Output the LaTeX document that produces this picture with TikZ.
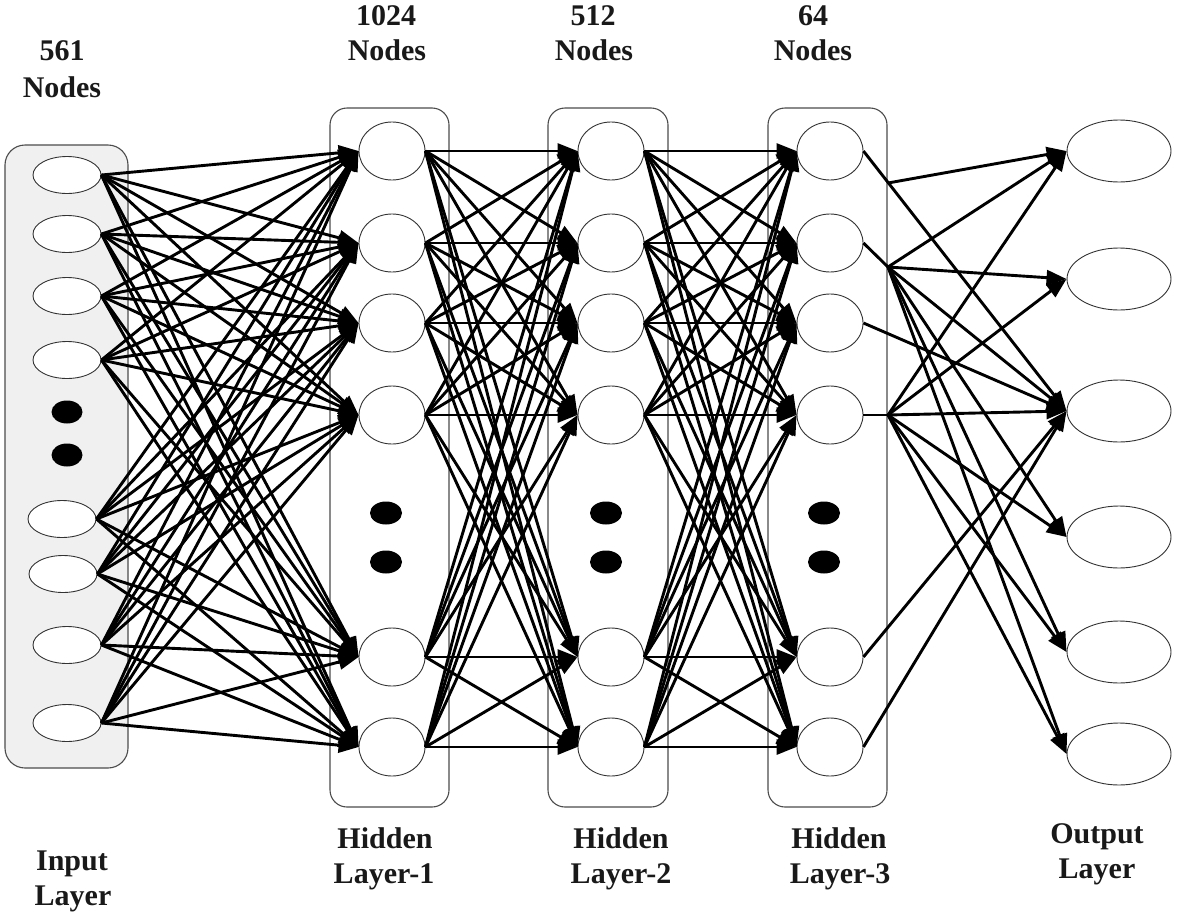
\documentclass[tikz,border=0pt]{standalone}
\usepackage{fontspec}
\setmainfont{Liberation Serif}
\usetikzlibrary{arrows.meta,shapes.geometric}
\begin{document}
\begin{tikzpicture}[x=1pt,y=-1pt,
  neuron/.style={ellipse, draw=black!80, line width=0.9pt, fill=white, inner sep=0pt},
  hnode/.style={neuron, minimum width=66pt, minimum height=58pt},
  inode/.style={neuron, minimum width=68pt, minimum height=37pt},
  onode/.style={neuron, minimum width=104pt, minimum height=62pt},
  dotnode/.style={ellipse, fill=black, draw=none, minimum width=31pt, minimum height=23pt, inner sep=0pt},
  layerbox/.style={draw=black!70, line width=1.1pt, rounded corners=17pt, inner sep=0pt},
  conn/.style={line width=2.9pt, -{Triangle[length=20pt,width=15pt]}},
  seg/.style={line width=2.9pt},
  lbl/.style={anchor=base, font=\fontsize{30}{35}\selectfont\bfseries, text=black!90, inner sep=0pt}
]
\fill[white] (0,0) rectangle (1181,913);
\useasboundingbox (0,0) rectangle (1181,913);

% layer boxes
\node[layerbox, fill=black!6, rounded corners=20pt, minimum width=123pt, minimum height=623pt] (boxin) at (66.5,456.5) {};
\node[layerbox, minimum width=119pt, minimum height=699pt] (box1) at (389.5,457.5) {};
\node[layerbox, minimum width=120pt, minimum height=699pt] (box2) at (608,457.5) {};
\node[layerbox, minimum width=119pt, minimum height=699pt] (box3) at (827.5,457.5) {};

% input nodes
\node[inode] (i1) at (67,175) {};
\node[inode] (i2) at (67,234) {};
\node[inode] (i3) at (67,296) {};
\node[inode] (i4) at (67,360) {};
\node[dotnode] (id1) at (67,412) {};
\node[dotnode] (id2) at (67,455) {};
\node[inode] (i5) at (62,519) {};
\node[inode] (i6) at (63,574) {};
\node[inode] (i7) at (67,645) {};
\node[inode] (i8) at (67,723) {};

% hidden nodes
\foreach \n/\x/\dx in {a/392/386, b/611/606, c/830/824}{
  \foreach \k/\y in {1/151, 2/243, 3/323, 4/415, 5/657, 6/747}{
    \node[hnode] (\n\k) at (\x,\y) {};
  }
  \node[dotnode, minimum width=32pt] (\n d1) at (\dx,513) {};
  \node[dotnode, minimum width=32pt] (\n d2) at (\dx,562) {};
}

% output nodes
\foreach \k/\y in {1/151, 2/279, 3/411, 4/537, 5/652, 6/754}{
  \node[onode] (o\k) at (1119,\y) {};
}

% connections
\foreach \i in {1,...,8}{
  \foreach \j in {1,...,6}{
    \draw[conn] (i\i.east) -- (a\j.west);
  }
}
\foreach \i in {1,...,6}{
  \foreach \j in {1,...,6}{
    \draw[conn] (a\i.east) -- (b\j.west);
    \draw[conn] (b\i.east) -- (c\j.west);
  }
}

\coordinate (p1) at (888,183);
\coordinate (p2) at (888,267);
\coordinate (p4) at (888,415);
\draw[conn] (c1.east) -- (o3.west);
\draw[conn] (p1) -- (o1.west);
\draw[seg] (c2.east) -- (p2);
\foreach \k in {1,...,6}{ \draw[conn] (p2) -- (o\k.west); }
\draw[conn] (c3.east) -- (o3.west);
\draw[seg] (c4.east) -- (p4);
\foreach \k in {1,...,6}{ \draw[conn] (p4) -- (o\k.west); }
\draw[conn] (c5.east) -- (o3.west);
\draw[conn] (c6.east) -- (o3.west);

% labels
\node[lbl] (t0a) at (62,60) {561};
\node[lbl] (t0b) at (62,97) {Nodes};
\node[lbl] (t1a) at (386,25) {1024};
\node[lbl] (t1b) at (387,60) {Nodes};
\node[lbl] (t2a) at (593,25) {512};
\node[lbl] (t2b) at (594,60) {Nodes};
\node[lbl] (t3a) at (813,25) {64};
\node[lbl] (t3b) at (813,60) {Nodes};

\node[lbl] (b0a) at (72,870) {Input};
\node[lbl] (b0b) at (73,905) {Layer};
\node[lbl] (b1a) at (385,848) {Hidden};
\node[lbl] (b1b) at (384,883) {Layer-1};
\node[lbl] (b2a) at (621,848) {Hidden};
\node[lbl] (b2b) at (621,883) {Layer-2};
\node[lbl] (b3a) at (839,848) {Hidden};
\node[lbl] (b3b) at (840,883) {Layer-3};
\node[lbl] (b4a) at (1097,843) {Output};
\node[lbl] (b4b) at (1097,878) {Layer};
\end{tikzpicture}
\end{document}
